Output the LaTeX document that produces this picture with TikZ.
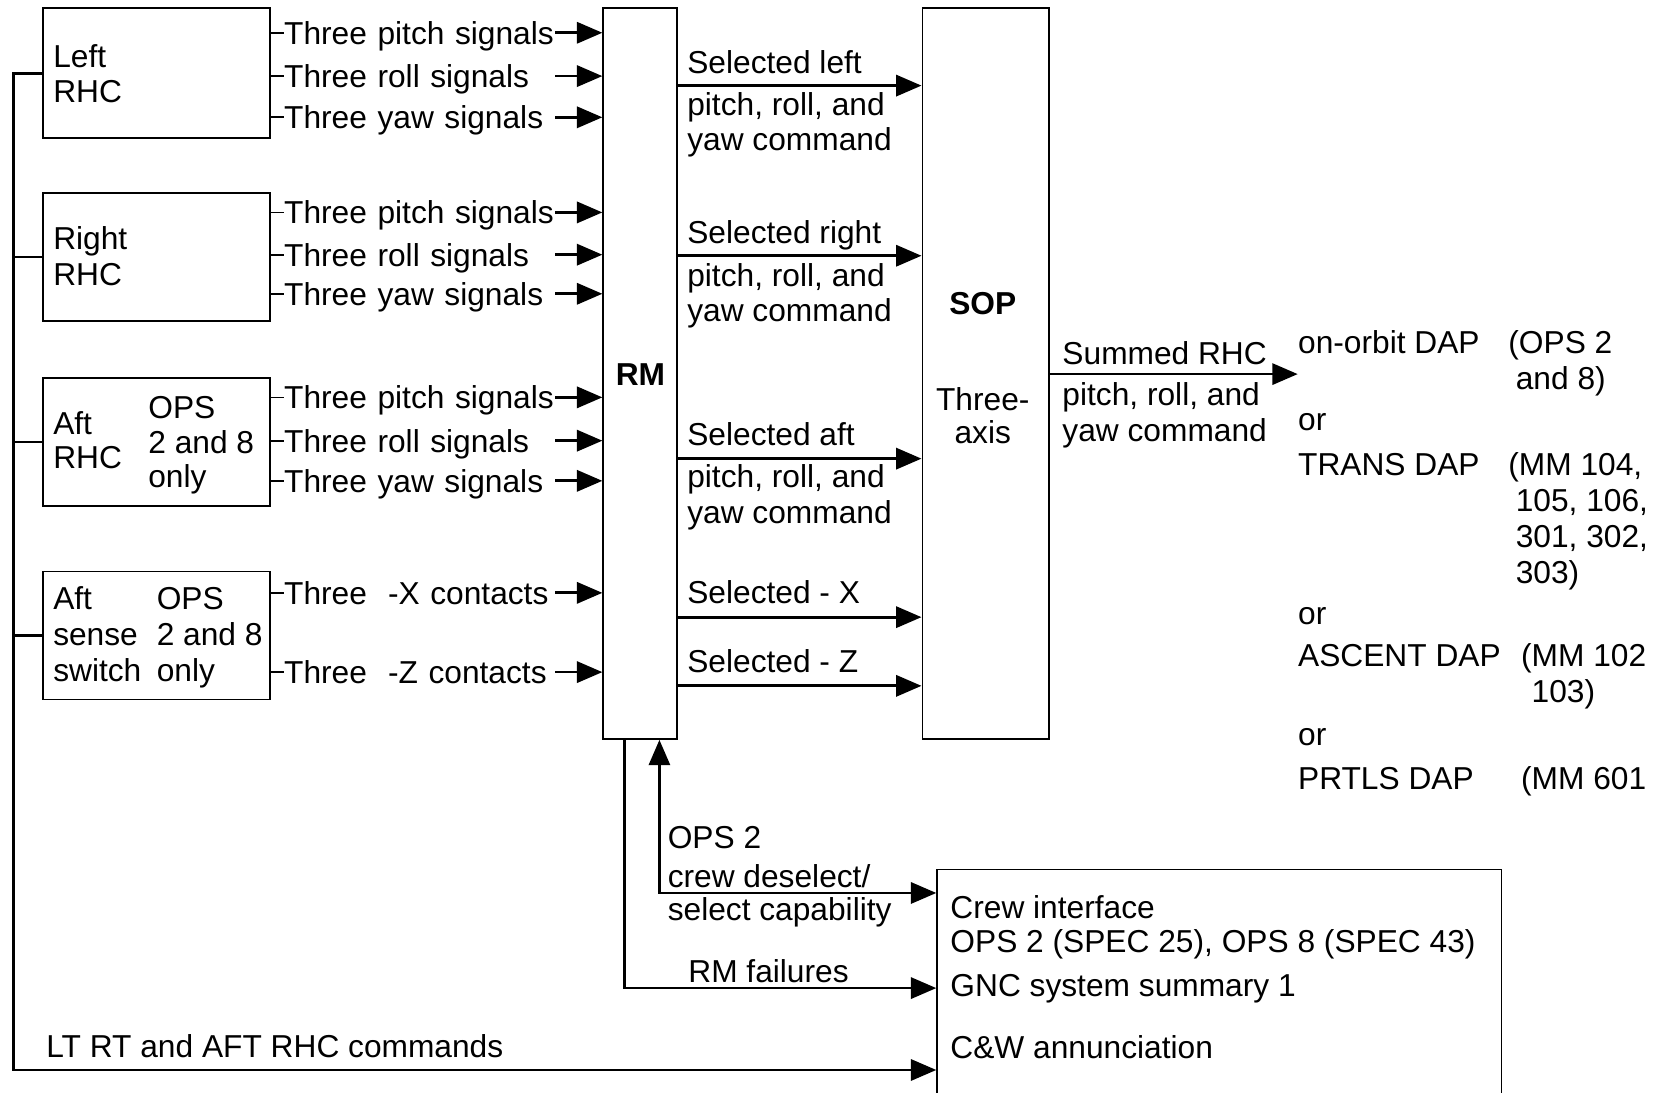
\documentclass[tikz,border=0pt]{standalone}
\usepackage{fontspec}
\setmainfont{Liberation Sans}
\usetikzlibrary{arrows.meta}
\newcommand\fsz{\fontsize{15}{17}\selectfont}
\begin{document}
\begin{tikzpicture}[x=0.5pt,y=-0.5pt,
  box/.style={draw,line width=0.8pt,inner sep=0,anchor=north west},
  tx/.style={inner sep=0,anchor=west,text height=10.75pt,text depth=0pt,font=\fsz},
  ctx/.style={tx,anchor=center},
  sig/.style={tx,text width=128pt,align=left},
  tick/.style={line width=0.8pt},
  conn/.style={line width=1.3pt},
  tip/.tip={Triangle[length=12pt,width=10pt]},
  arr/.style={conn,-tip},
]
\useasboundingbox (0,0) rectangle (1568,1034);

% boxes
\node[box,minimum width=107.5pt,minimum height=61.5pt] (lrhc) at (40,7) {};
\node[box,minimum width=107.5pt,minimum height=60.5pt] (rrhc) at (40,182) {};
\node[box,minimum width=107.5pt,minimum height=60.5pt] (arhc) at (40,357) {};
\node[box,minimum width=107.5pt,minimum height=60.5pt] (sense) at (40,540) {};
\node[box,minimum width=35pt,minimum height=345.75pt] (rm) at (570,7) {};
\node[box,minimum width=60pt,minimum height=345.75pt] (sop) at (872,7) {};
\node[box,minimum width=267pt,minimum height=130pt] (crew) at (886,822) {};

% box texts
\node[tx] (t1) at (50,53) {Left};
\node[tx] (t2) at (50,86) {RHC};
\node[tx] (t3) at (50,225) {Right};
\node[tx] (t4) at (50,259) {RHC};
\node[tx] (t5) at (50,400) {Aft};
\node[tx] (t6) at (50,433) {RHC};
\node[tx] (t7) at (140,385) {OPS};
\node[tx] (t8) at (140,418) {2 and 8};
\node[tx] (t9) at (140,451) {only};
\node[tx] (t10) at (50,566) {Aft};
\node[tx] (t11) at (50,600) {sense};
\node[tx] (t12) at (50,634) {switch};
\node[tx] (t13) at (148,566) {OPS};
\node[tx] (t14) at (148,600) {2 and 8};
\node[tx] (t15) at (148,634) {only};

\node[ctx,font=\fsz\bfseries] (rmlbl) at (606,354) {RM};
\node[ctx,font=\fsz\bfseries] (soplbl) at (930,287) {SOP};
\node[ctx] (sop2) at (930,378) {Three-};
\node[ctx] (sop3) at (930,409) {axis};

% input signals
\node[sig] (lp) at (268.5,31) {Three pitch signals};
\node[sig] (lr) at (268.5,72) {Three roll signals};
\node[sig] (ly) at (268.5,111) {Three yaw signals};
\node[sig] (rp) at (268.5,201) {Three pitch signals};
\node[sig] (rr) at (268.5,241) {Three roll signals};
\node[sig] (ry) at (268.5,278) {Three yaw signals};
\node[sig] (ap) at (268.5,376) {Three pitch signals};
\node[sig] (ar) at (268.5,417) {Three roll signals};
\node[sig] (ay) at (268.5,455) {Three yaw signals};
\node[sig] (sx) at (268.5,561) {Three\ \ -X contacts};
\node[sig] (sz) at (268.5,636) {Three\ \ -Z contacts};

\foreach \b/\n in {lrhc/lp,lrhc/lr,lrhc/ly,rrhc/rp,rrhc/rr,rrhc/ry,arhc/ap,arhc/ar,arhc/ay,sense/sx,sense/sz}{
  \draw[tick] (\n.west -| \b.east) -- (\n.west);
  \draw[arr] (\n.east) -- (\n.east -| rm.west);
}

% RM -> SOP
\coordinate (ya1) at (0,81);
\coordinate (ya2) at (0,242);
\coordinate (ya3) at (0,434);
\coordinate (ya4) at (0,584);
\coordinate (ya5) at (0,649);
\foreach \c in {ya1,ya2,ya3,ya4,ya5}{
  \draw[arr] (rm.east |- \c) -- (sop.west |- \c);
}
\node[tx] (o1a) at (650,59) {Selected left};
\node[tx] (o1b) at (650,99) {pitch, roll, and};
\node[tx] (o1c) at (650,132) {yaw command};
\node[tx] (o2a) at (650,220) {Selected right};
\node[tx] (o2b) at (650,260) {pitch, roll, and};
\node[tx] (o2c) at (650,293) {yaw command};
\node[tx] (o3a) at (650,411) {Selected aft};
\node[tx] (o3b) at (650,451) {pitch, roll, and};
\node[tx] (o3c) at (650,485) {yaw command};
\node[tx] (o4) at (650,560) {Selected - X};
\node[tx] (o5) at (650,626) {Selected - Z};

% SOP output
\coordinate (dapin) at (1228,354);
\draw[arr] (sop.east |- dapin) -- (dapin);
\node[tx] (s1) at (1005,334) {Summed RHC};
\node[tx] (s2) at (1005,373) {pitch, roll, and};
\node[tx] (s3) at (1005,407) {yaw command};

% DAP list
\node[tx] (d1) at (1228,324) {on-orbit DAP};
\node[tx] (d1a) at (1427,324) {(OPS 2};
\node[tx] (d1b) at (1434,358) {and 8)};
\node[tx] (d2) at (1228,397) {or};
\node[tx] (d3) at (1228,439) {TRANS DAP};
\node[tx] (d3a) at (1427,439) {(MM 104,};
\node[tx] (d3b) at (1434,473) {105, 106,};
\node[tx] (d3c) at (1434,507) {301, 302,};
\node[tx] (d3d) at (1434,541) {303)};
\node[tx] (d4) at (1228,580) {or};
\node[tx] (d5) at (1228,620) {ASCENT DAP};
\node[tx] (d5a) at (1439,620) {(MM 102};
\node[tx] (d5b) at (1449,654) {103)};
\node[tx] (d6) at (1228,695) {or};
\node[tx] (d7) at (1228,736) {PRTLS DAP};
\node[tx] (d7a) at (1439,736) {(MM 601};

% crew interface texts
\node[tx] (c1) at (899,858) {Crew interface};
\node[tx] (c2) at (899,891) {OPS 2 (SPEC 25), OPS 8 (SPEC 43)};
\node[tx] (c3) at (899,932.5) {GNC system summary 1};
\node[tx] (c4) at (899,990.5) {C\&W annunciation};

% RM bottom connectors
\coordinate (selc) at (624,845);
\coordinate (rmfail) at (591,935);
\draw[conn,tip-tip] (rm.south -| selc) -- (selc) -- (crew.west |- selc);
\draw[arr] (rm.south -| rmfail) -- (rmfail) -- (crew.west |- rmfail);
\node[tx] (q1) at (631.5,792) {OPS 2};
\node[tx] (q2) at (631.5,829) {crew deselect/};
\node[tx] (q3) at (631.5,860) {select capability};
\node[tx] (q4) at (651,919) {RM failures};

% bus
\coordinate (busbot) at (12.7,1012.5);
\draw[arr] (lrhc.west) -| (busbot) -- (crew.west |- busbot);
\draw[conn] (rrhc.west) -- (rrhc.west -| busbot);
\draw[conn] (arhc.west) -- (arhc.west -| busbot);
\draw[conn] (sense.west) -- (sense.west -| busbot);
\node[tx] (bl) at (43.5,989.5) {LT RT and AFT RHC commands};
\end{tikzpicture}
\end{document}
